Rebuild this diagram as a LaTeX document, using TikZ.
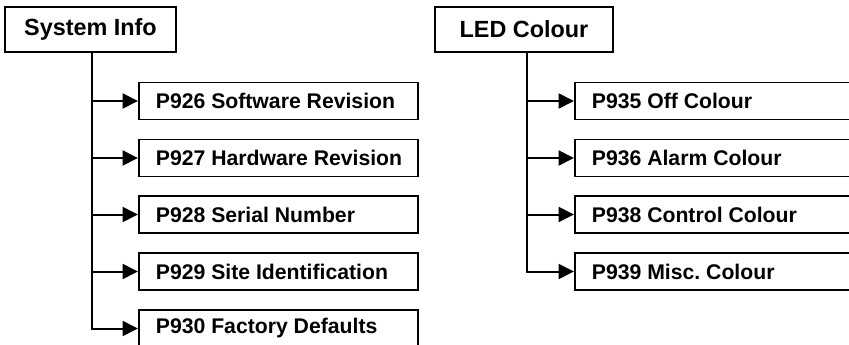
\documentclass[tikz,border=0pt]{standalone}
\usepackage{fontspec}
\setmainfont{Liberation Sans}
\usetikzlibrary{arrows.meta}
\frenchspacing
\newcommand{\itemtext}[1]{\makebox[245pt][l]{#1}}

\begin{document}
\begin{tikzpicture}[x=1pt,y=-1pt,
    head/.style={draw,line width=1.8pt,minimum height=45pt,inner sep=0pt,
      font=\fontsize{23.4}{27}\selectfont\bfseries},
    item/.style={draw,line width=1.8pt,anchor=west,minimum height=37pt,
      minimum width=279pt,inner sep=0pt,
      font=\fontsize{21.2}{25}\selectfont\bfseries},
    link/.style={line width=2pt,-{Triangle[length=15.5pt,width=15pt]}}]
  \clip (0,0) rectangle (849,345);
  % left tree
  \node[head,minimum width=171pt] (sys) at (90.5,29.5) {System Info};
  \node[item] (p926) at (138,101) {\itemtext{P926 Software Revision}};
  \node[item] (p927) at (138,158) {\itemtext{P927 Hardware Revision}};
  \node[item] (p928) at (138,214.5) {\itemtext{P928 Serial Number}};
  \node[item] (p929) at (138,271.5) {\itemtext{P929 Site Identification}};
  \node[item] (p930) at (138,328.5) {\itemtext{P930 Factory Defaults}};
  \coordinate (systop) at ([xshift=1.5pt]sys.south);
  \draw[link] (systop) |- (p926.west);
  \draw[link] (systop) |- (p927.west);
  \draw[link] (systop) |- (p928.west);
  \draw[link] (systop) |- (p929.west);
  \draw[link] (systop) |- (p930.west);
  % right tree, its boxes run past the edge
  \node[head,minimum width=178pt] (led) at (524,29.5) {LED Colour};
  \node[item] (p935) at (574,101) {\itemtext{P935 Off Colour}};
  \node[item] (p936) at (574,158) {\itemtext{P936 Alarm Colour}};
  \node[item] (p938) at (574,214.5) {\itemtext{P938 Control Colour}};
  \node[item] (p939) at (574,271.5) {\itemtext{P939 Misc. Colour}};
  \coordinate (ledtop) at ([xshift=3pt]led.south);
  \draw[link] (ledtop) |- (p935.west);
  \draw[link] (ledtop) |- (p936.west);
  \draw[link] (ledtop) |- (p938.west);
  \draw[link] (ledtop) |- (p939.west);
\end{tikzpicture}
\end{document}
